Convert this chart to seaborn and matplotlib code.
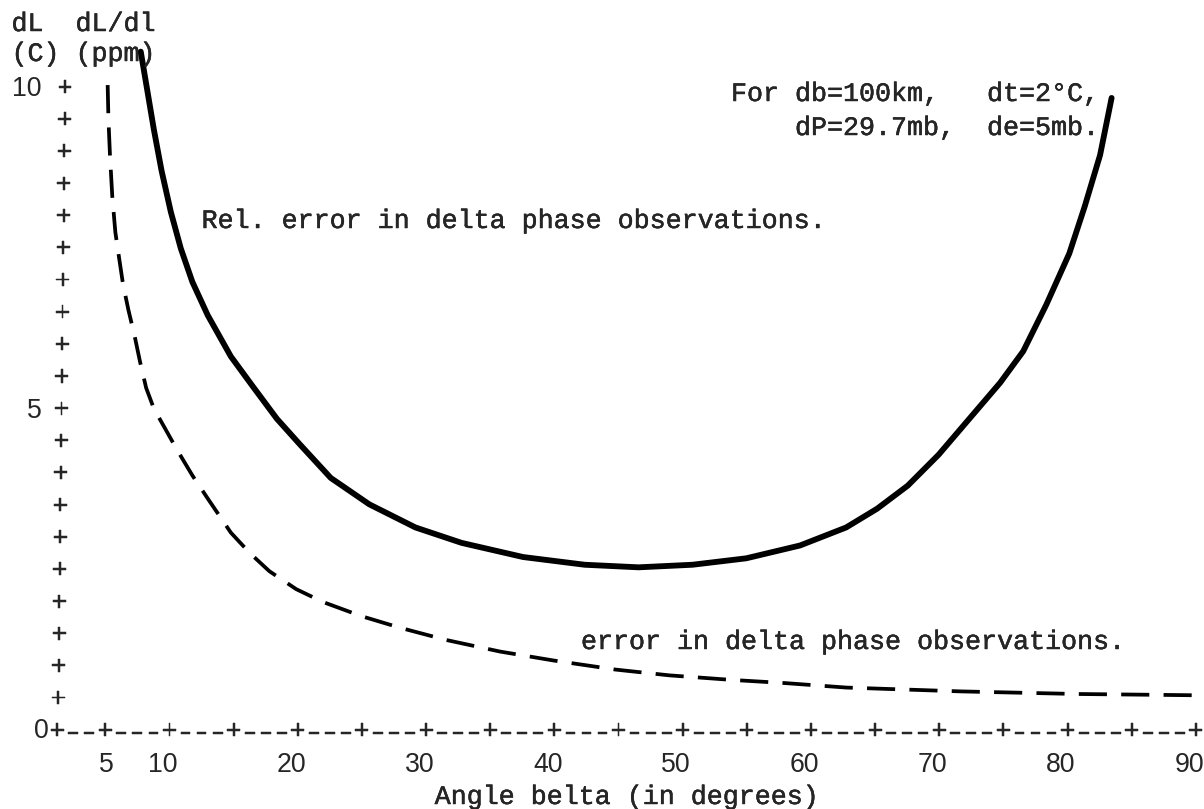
import numpy as np
import pandas as pd
import matplotlib
matplotlib.use("Agg")
import matplotlib.pyplot as plt
import matplotlib.patheffects as pe
import seaborn as sns

# ---------------- data ----------------
# solid curve: relative error in delta phase observations  (dL/dl, ppm)
rel_angle = [7.76, 8.30, 8.78, 9.38, 10.10, 10.88, 11.78, 12.98, 14.78, 16.58,
             18.37, 20.17, 22.57, 25.57, 29.17, 32.77, 37.56, 42.36, 46.56, 50.76,
             54.95, 59.15, 62.74, 65.14, 67.54, 69.94, 72.34, 74.74, 76.54, 78.33,
             80.13, 81.33, 82.53, 83.43]
rel_error = [10.55, 9.91, 9.34, 8.70, 8.06, 7.49, 6.97, 6.45, 5.81, 5.32,
             4.84, 4.44, 3.92, 3.51, 3.15, 2.91, 2.69, 2.57, 2.53, 2.57,
             2.67, 2.87, 3.15, 3.44, 3.80, 4.28, 4.84, 5.40, 5.89, 6.61,
             7.41, 8.14, 8.94, 9.83]

# dashed curve: error in delta phase observations  (dL, C)
abs_angle = [5.18, 5.24, 5.36, 5.54, 5.78, 6.08, 6.38, 6.80, 7.28, 7.70,
             8.18, 8.78, 9.68, 10.58, 11.78, 12.98, 14.78, 16.27, 17.78, 19.88,
             21.97, 24.97, 27.97, 31.57, 35.76, 39.96, 44.75, 48.95, 53.75, 57.95,
             62.74, 67.24, 71.74, 76.24, 80.73, 85.53, 90.0]
abs_error = [10.03, 9.50, 8.94, 8.30, 7.74, 7.33, 6.93, 6.53, 6.13, 5.73,
             5.32, 5.00, 4.68, 4.36, 3.96, 3.60, 3.07, 2.75, 2.47, 2.19,
             1.99, 1.77, 1.59, 1.40, 1.22, 1.08, 0.94, 0.85, 0.78, 0.73,
             0.66, 0.63, 0.60, 0.58, 0.56, 0.55, 0.54]

x_tick_labels = [5, 10, 20, 30, 40, 50, 60, 70, 80, 90]
x_plus = list(range(5, 95, 5))               # "+" marks every 5 degrees
y_plus = [0.5 * k for k in range(1, 21)]      # "+" marks every 0.5 units
y_tick_labels = [10, 5]

# ---------------- layout ----------------
W, H = 1204, 809
X0, XS = 41.2, 12.83      # pixel of 0 deg, pixels per degree
Y0, YS = 730.0, 64.3      # pixel row of value 0, pixels per unit

sns.set_style("white")
plt.rcParams["font.family"] = ["Liberation Mono", "DejaVu Sans"]

MONO = "Liberation Mono"
SANS = "Liberation Sans"
FS = 19.2
HEAVY = [pe.withStroke(linewidth=0.3, foreground="black")]

fig = plt.figure(figsize=(W / 100, H / 100), dpi=100)
ax = fig.add_axes([0, 0, 1, 1])
ax.set_xlim(-X0 / XS, (W - X0) / XS)
ax.set_ylim(-(H - Y0) / YS, Y0 / YS)
ax.axis("off")

def dx(px):  # pixel offset -> degrees
    return px / XS

def dy(px):  # pixel offset -> value units
    return px / YS

BASE = dy(8.5)  # baseline sits below the glyph centre

# curves
df_rel = pd.DataFrame({"angle": rel_angle, "error": rel_error})
df_abs = pd.DataFrame({"angle": abs_angle, "error": abs_error})
sns.lineplot(data=df_rel, x="angle", y="error", ax=ax, color="black",
             linewidth=4.2, estimator=None, sort=False, legend=False,
             solid_capstyle="round", solid_joinstyle="round")
n_before = len(ax.lines)
sns.lineplot(data=df_abs, x="angle", y="error", ax=ax, color="black",
             linewidth=2.7, estimator=None, sort=False, legend=False)
for ln in ax.lines[n_before:]:
    ln.set_dashes((7.5, 3.8))

# x axis drawn typewriter style: 0+--+---+---+ ...
ax.text(0, -BASE, "0", family=SANS, fontsize=FS, ha="center", va="baseline")
prev = 0
for t in x_plus:
    ax.text(t, -BASE, "+", family=MONO, fontsize=FS, ha="center", va="baseline",
            path_effects=HEAVY)
    for j in (1, 2, 3):
        pos = prev + (t - prev) * j / 4
        if prev == 0 and j == 1:
            ax.text(pos, -BASE, "+", family=MONO, fontsize=FS, ha="center",
                    va="baseline", path_effects=HEAVY)
        else:
            ax.text(pos, -BASE, "\u2013", family=MONO, fontsize=FS * 0.85,
                    ha="center", va="baseline", path_effects=HEAVY)
    prev = t
for t in x_tick_labels:
    ax.text(t + dx(8), -dy(762 - Y0) - dy(9.5), str(t), family=SANS, fontsize=FS,
            ha="right", va="baseline")

# y axis column of "+"
for v in y_plus:
    xp = (58 + 7 * v / 10 - X0) / XS
    ax.text(xp, v - BASE, "+", family=MONO, fontsize=FS, ha="center", va="baseline",
            path_effects=HEAVY)
for v in y_tick_labels:
    ax.text(dx(42 - X0), v - dy(9.5), str(v), family=SANS, fontsize=FS,
            ha="right", va="baseline")

# annotations (pixel positions: left x, baseline y)
def ftext(x, y, s, **kw):
    fig.text(x / W, 1 - y / H, s, family=MONO, fontsize=FS, ha="left",
             va="baseline", path_effects=HEAVY, **kw)

ftext(11.5, 31, "dL  dL/dl")
ftext(11.5, 61, "(C) (ppm)")
ftext(731, 101, "For db=100km,   dt=2°C,")
ftext(795, 135, "dP=29.7mb,  de=5mb.")
ftext(201.6, 228, "Rel. error in delta phase observations.")
ftext(581, 649, "error in delta phase observations.")
ftext(434.7, 804, "Angle belta (in degrees)")

fig.savefig("out.png", dpi=100)
